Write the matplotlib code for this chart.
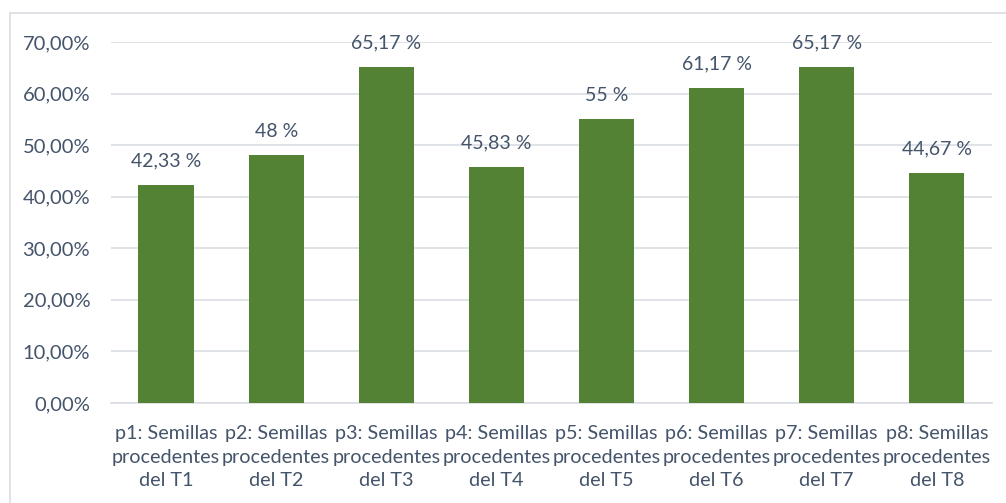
import matplotlib.pyplot as plt
from matplotlib.lines import Line2D
from matplotlib.ticker import FuncFormatter, MultipleLocator

categories = [
    "p1: Semillas\nprocedentes\ndel T1",
    "p2: Semillas\nprocedentes\ndel T2",
    "p3: Semillas\nprocedentes\ndel T3",
    "p4: Semillas\nprocedentes\ndel T4",
    "p5: Semillas\nprocedentes\ndel T5",
    "p6: Semillas\nprocedentes\ndel T6",
    "p7: Semillas\nprocedentes\ndel T7",
    "p8: Semillas\nprocedentes\ndel T8",
]
values = [42.33, 48, 65.17, 45.83, 55, 61.17, 65.17, 44.67]
value_labels = ["42,33 %", "48 %", "65,17 %", "45,83 %", "55 %", "61,17 %", "65,17 %", "44,67 %"]

TEXT = "#44546A"
GRID = "#D9DDE3"
BAR = "#548235"

plt.rcParams["font.family"] = ["Lato", "DejaVu Sans"]

fig = plt.figure(figsize=(10.06, 5.03), dpi=100)
ax = fig.add_axes([0.1103, 0.1988, 0.8757, 0.7177])

x = range(len(values))
ax.bar(x, values, width=0.5, color=BAR, zorder=3)
for xi, v, lab in zip(x, values, value_labels):
    ax.annotate(lab, (xi, v), xytext=(0, 11), textcoords="offset points",
                ha="center", va="bottom", fontsize=14, color=TEXT)

ax.set_xlim(-0.5, len(values) - 0.5)
ax.set_ylim(0, 70)
ax.yaxis.set_major_locator(MultipleLocator(10))
ax.yaxis.set_major_formatter(FuncFormatter(lambda v, _: f"{v:.2f}%".replace(".", ",")))
ax.grid(axis="y", color=GRID, linewidth=1.2, zorder=0)
ax.set_xticks(list(x))
ax.set_xticklabels(categories, fontsize=14.2, color=TEXT, linespacing=1.45)
ax.tick_params(axis="y", labelsize=14.5, colors=TEXT, length=0, pad=15)
ax.tick_params(axis="x", length=0, pad=16)
for side in ("top", "right", "left"):
    ax.spines[side].set_visible(False)
ax.spines["bottom"].set_color(GRID)
ax.spines["bottom"].set_linewidth(1.2)

# chart area border (left and top edges)
fig.add_artist(Line2D([10 / 1006, 10 / 1006], [0, 490 / 503], color=GRID, linewidth=1.2))
fig.add_artist(Line2D([10 / 1006, 1], [490 / 503, 490 / 503], color=GRID, linewidth=1.2))

fig.savefig("out.png", dpi=100)
